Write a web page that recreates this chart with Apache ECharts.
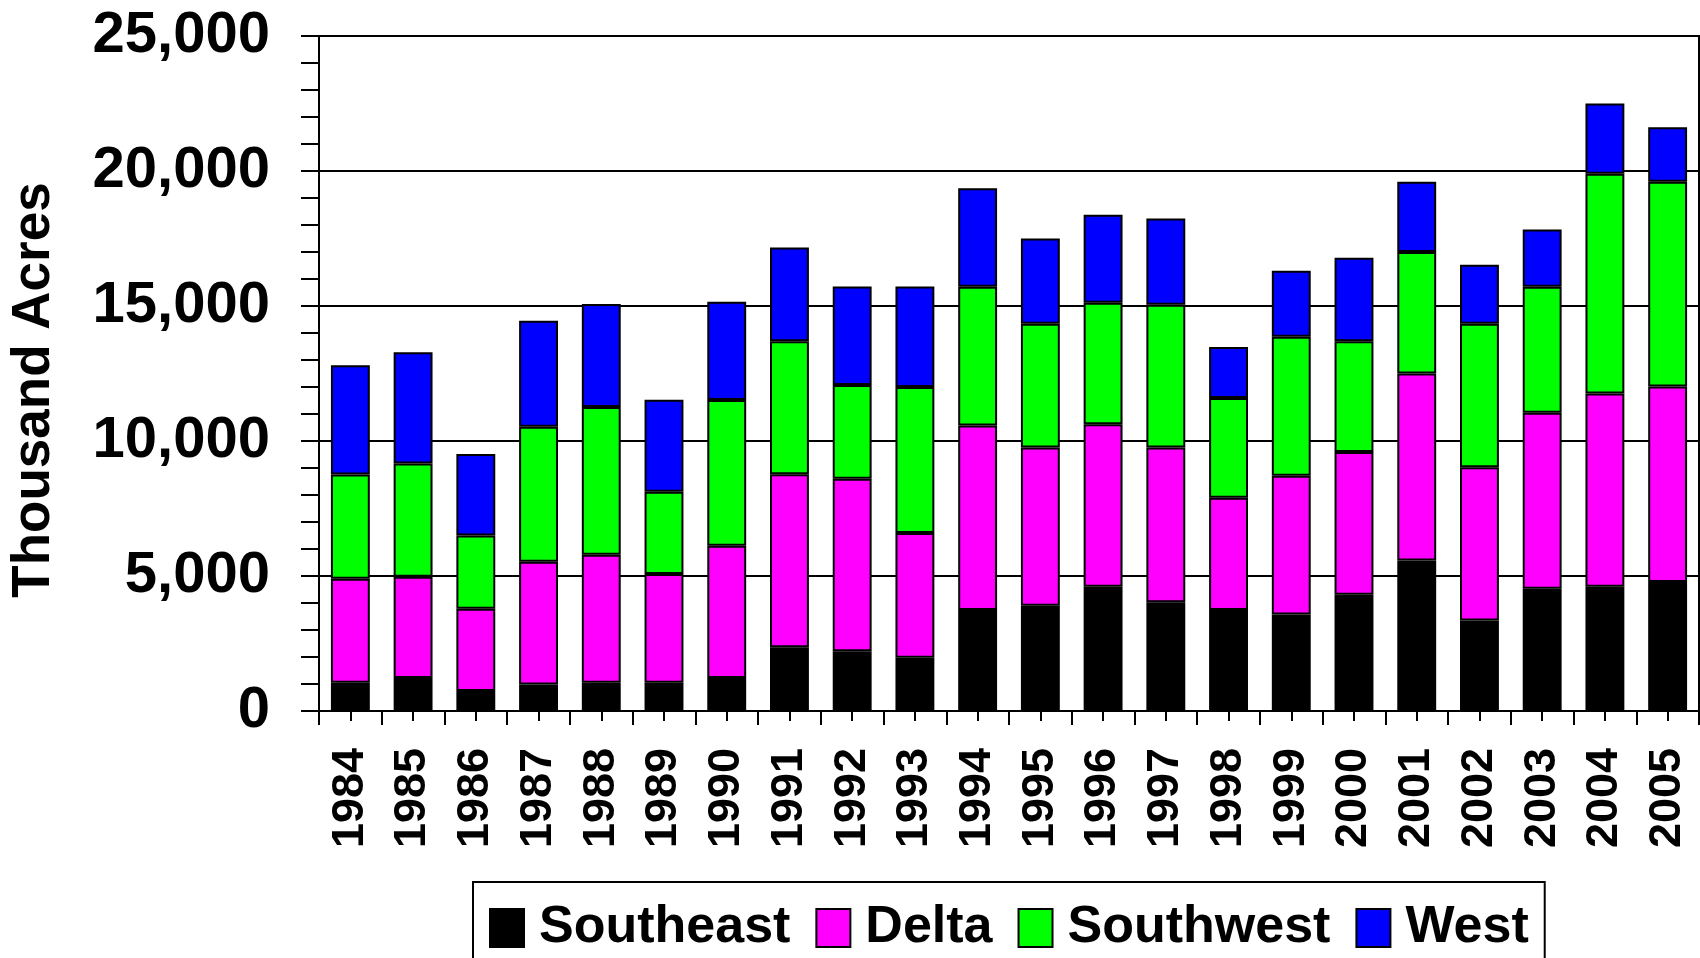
<!DOCTYPE html>
<html>
<head>
<meta charset="utf-8">
<script src="https://cdn.jsdelivr.net/npm/echarts@6/dist/echarts.min.js"></script>
<style>
  html, body { margin: 0; padding: 0; background: #fff; }
  #chart { width: 1700px; height: 958px; }
</style>
</head>
<body>
<div id="chart"></div>
<script>
const years = ['1984','1985','1986','1987','1988','1989','1990','1991','1992','1993','1994','1995','1996','1997','1998','1999','2000','2001','2002','2003','2004','2005'];
const southeast = [1050,1220,740,980,1050,1050,1220,2360,2210,1970,3740,3900,4600,4030,3740,3570,4310,5570,3350,4530,4600,4780];
const delta     = [3850,3750,3050,4550,4740,4020,4900,6410,6390,4620,6830,5860,6020,5730,4160,5140,5280,6930,5680,6520,7160,7240];
const southwest = [3860,4200,2710,5000,5470,3050,5400,4920,3470,5410,5140,4580,4500,5290,3690,5150,4100,4500,5310,4660,8140,7580];
const west      = [4050,4120,3020,3920,3810,3410,3640,3480,3650,3720,3650,3160,3260,3190,1890,2450,3100,2600,2190,2120,2600,2020];
const yTicks = [0, 5000, 10000, 15000, 20000, 25000];

const FONT = '"Liberation Sans", Arial, Helvetica, sans-serif';
const chart = echarts.init(document.getElementById('chart'), null, { renderer: 'canvas' });

function mk(name, data, color) {
  return {
    name: name, type: 'bar', stack: 'total', data: data,
    xAxisIndex: 0, yAxisIndex: 0,
    barCategoryGap: '38%',
    itemStyle: { color: color, borderColor: '#000', borderWidth: 2 },
    emphasis: { disabled: true },
    animation: false
  };
}

chart.setOption({
  animation: false,
  backgroundColor: '#fff',
  grid: {
    left: 314, right: 1, top: 36, bottom: 247,
    show: true, borderColor: '#000', borderWidth: 2
  },
  legend: {
    left: 473, top: 882,
    orient: 'horizontal',
    itemWidth: 34, itemHeight: 38, itemGap: 25,
    padding: [20, 16, 30, 16],
    borderColor: '#000', borderWidth: 2,
    icon: 'rect',
    textStyle: { fontFamily: FONT, fontWeight: 'bold', fontSize: 52, color: '#000', padding: [0, 0, 0, 10] },
    data: ['Southeast', 'Delta', 'Southwest', 'West']
  },
  xAxis: [
    {
      type: 'category', data: years, position: 'bottom',
      axisLine: { show: true, lineStyle: { color: '#000', width: 2 } },
      axisTick: { show: true, length: 14, alignWithLabel: false, lineStyle: { color: '#000', width: 2 } },
      axisLabel: { rotate: 90, margin: 37, fontFamily: FONT, fontWeight: 'bold', fontSize: 45, color: '#000', interval: 0 },
      splitLine: { show: false }
    },
    {
      type: 'category', data: years, position: 'bottom',
      axisLine: { show: false },
      axisTick: { show: true, length: 10, alignWithLabel: true, lineStyle: { color: '#000', width: 2 } },
      axisLabel: { show: false },
      splitLine: { show: false }
    }
  ],
  yAxis: {
    type: 'value', min: 0, max: 25000, interval: 5000,
    name: 'Thousand Acres', nameLocation: 'middle', nameRotate: 90, nameGap: 258,
    nameTextStyle: { fontFamily: FONT, fontWeight: 'bold', fontSize: 53, color: '#000', padding: [0, 33, 0, 0] },
    axisLine: { show: true, lineStyle: { color: '#000', width: 2 } },
    axisTick: { show: true, length: 18, lineStyle: { color: '#000', width: 2 } },
    minorTick: { show: true, splitNumber: 5, length: 18, lineStyle: { color: '#000', width: 2 } },
    axisLabel: {
      margin: 49, fontFamily: FONT, fontWeight: 'bold', fontSize: 58, color: '#000',
      formatter: function (v) { return yTicks.indexOf(v) >= 0 ? v.toLocaleString('en-US') : ''; }
    },
    splitLine: { show: true, lineStyle: { color: '#000', width: 2 } }
  },
  series: [
    mk('Southeast', southeast, '#000000'),
    mk('Delta', delta, '#FF00FF'),
    mk('Southwest', southwest, '#00FF00'),
    mk('West', west, '#0000FF')
  ]
});
</script>
</body>
</html>
